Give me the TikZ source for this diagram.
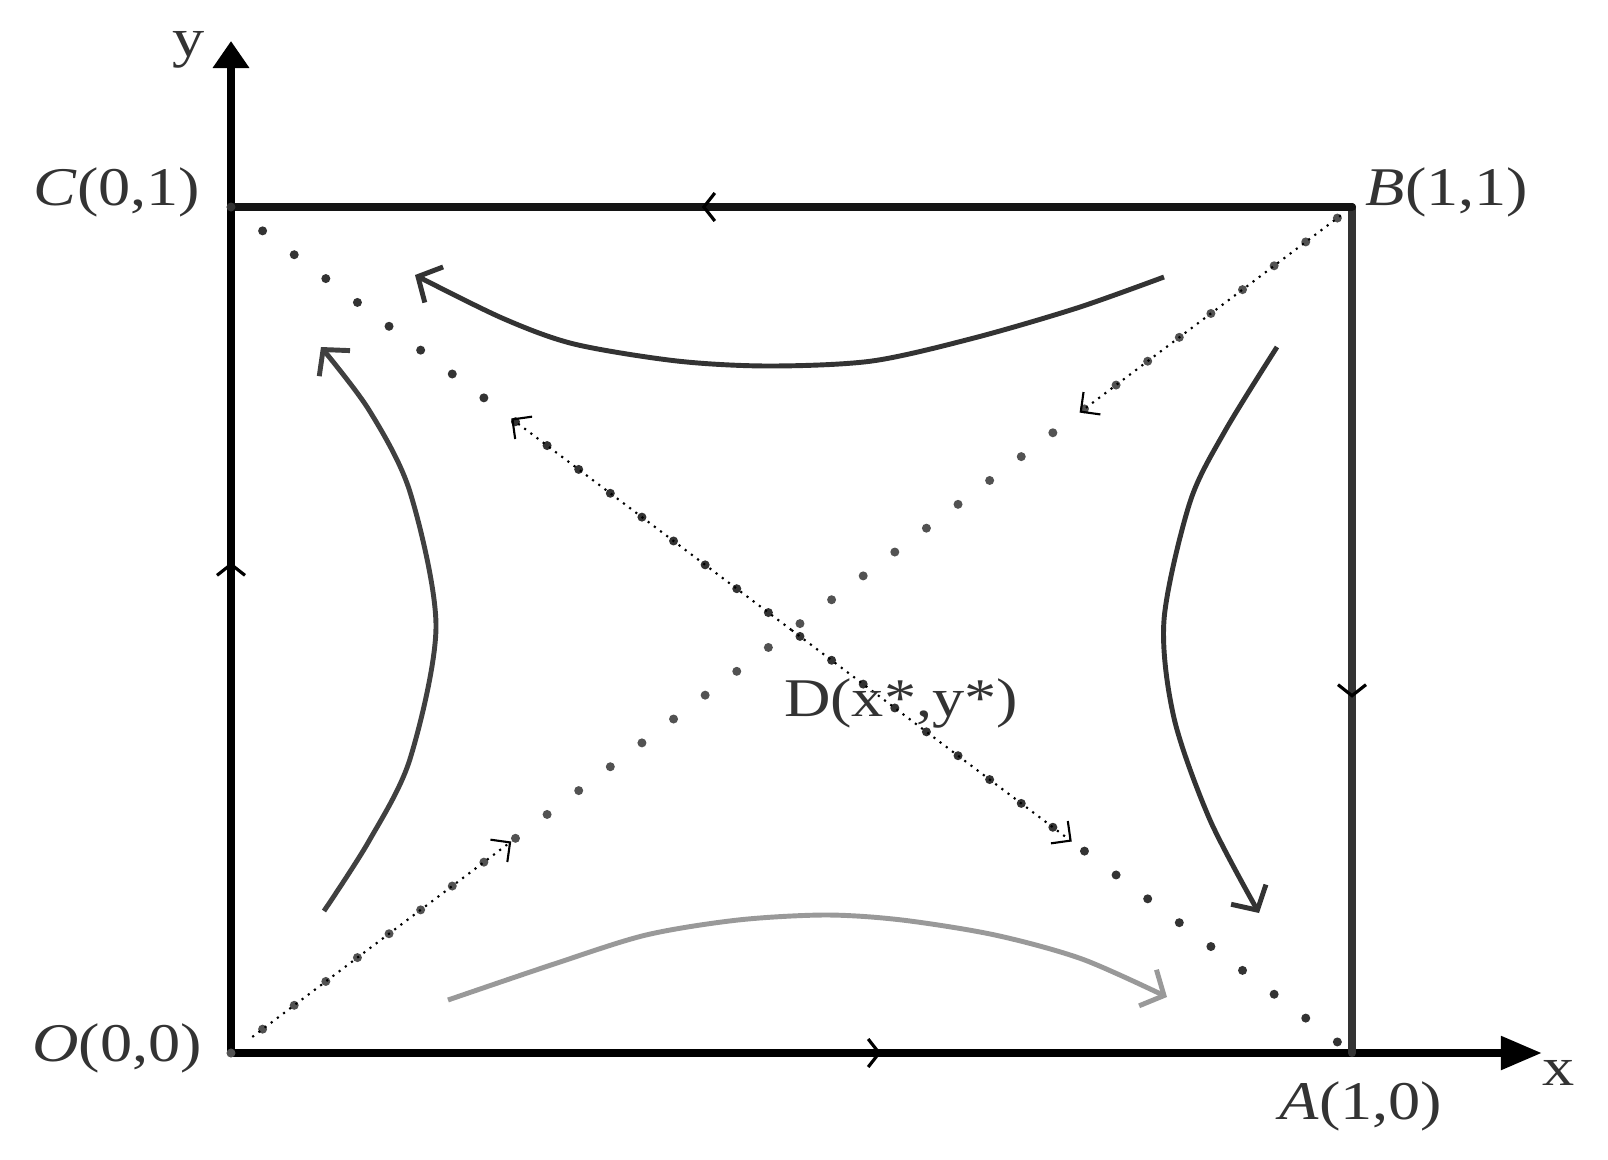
\documentclass[tikz,border=0pt]{standalone}
\usepackage{fontspec}
\setmainfont[FakeStretch=1.18]{Liberation Serif}
\usetikzlibrary{calc,arrows.meta,decorations.markings}

\tikzset{
  side/.style={line width=2.3pt,line cap=round},
  flow/.style={postaction=decorate,decoration={markings,
      mark=at position 0.58 with {\arrow[black]{Straight Barb[length=1.1mm,width=2.8mm,line width=0.9pt]}}}},
  xaxis/.style={line width=2.3pt,-{Triangle[length=4.1mm,width=3.2mm]}},
  yaxis/.style={line width=2.3pt,-{Triangle[length=2.7mm,width=3.5mm]}},
  orbit/.style={line width=1.4pt,-{Straight Barb[length=1.8mm,width=4mm,line width=1.4pt]}},
  manifold/.style={line width=0.6pt,dash pattern=on 0.6pt off 1.6pt},
  tip/.style={-{Straight Barb[length=1.4mm,width=2.8mm,line width=0.6pt]}},
  lbl/.style={font=\fontsize{15.5}{18}\selectfont,text=black!80,inner sep=0pt}
}

\begin{document}
\begin{tikzpicture}[x=0.01cm,y=-0.01cm]
\useasboundingbox (0,0) rectangle (1608,1160);

% corners of the unit square
\coordinate (O) at (231,1053);
\coordinate (A) at (1352,1053);
\coordinate (B) at (1352,207);
\coordinate (C) at (231,207);
\coordinate (D) at ($(O)!0.5!(B)$);
\coordinate (xtip) at (1542,1053);
\coordinate (ytip) at (231,41);

% axes
\draw[xaxis] (O) -- (xtip);
\draw[yaxis] (O) -- (ytip);

% boundary with directions
\draw[side,flow] (O) -- (A);
\draw[side,flow,black!80] (B) -- (A);
\draw[side,flow,black!92] (B) -- (C);
\draw[side,flow] (O) -- (C);

% trajectories
\draw[orbit,black!80] plot[smooth] coordinates {(1164,277) (1077,308) (974,338) (872,361) (769,366) (677,361) (574,344) (502,318) (415,275)};
\draw[orbit,black!75] plot[smooth] coordinates {(324,911) (369,841) (410,759) (436,626) (410,492) (369,410) (321,347)};
\draw[orbit,black!80] plot[smooth] coordinates {(1277,347) (1225,431) (1190,502) (1164,620) (1174,718) (1210,820) (1259,913)};
\draw[orbit,black!40] plot[smooth] coordinates {(448,1000) (554,964) (646,935) (738,920) (826,915) (902,920) (995,935) (1082,959) (1167,997)};

% dotted diagonals
\foreach \k in {0,...,35} {
  \pgfmathsetmacro\t{\k*0.0282}
  \fill[black!68] ($(O)!\t!(B)$) circle (0.045cm);
  \fill[black!80] ($(C)!\t!(A)$) circle (0.045cm);
}

% saddle directions
\coordinate (s1) at ($(O)!0.019!(B)$);
\coordinate (e1) at ($(O)!0.25!(B)$);
\coordinate (s2) at ($(O)!0.99!(B)$);
\coordinate (e2) at ($(O)!0.757!(B)$);
\coordinate (u1) at ($(C)!0.25!(A)$);
\coordinate (u2) at ($(C)!0.75!(A)$);
\draw[manifold,tip] (s1) -- (e1);
\draw[manifold,tip] (s2) -- (e2);
\draw[manifold,tip] (D) -- (u1);
\draw[manifold,tip] (D) -- (u2);

% labels
\node[lbl] (ylab) at (189,50) {y};
\node[lbl] (xlab) at (1559,1073) {x};
\node[lbl] (Clab) at (117,192) {\textit{C}(0,1)};
\node[lbl] (Blab) at (1447,192) {\textit{B}(1,1)};
\node[lbl] (Olab) at (117,1048) {\textit{O}(0,0)};
\node[lbl] (Alab) at (1361,1106) {\textit{A}(1,0)};
\node[lbl] (Dlab) at (901,703) {D(x*,y*)};
\end{tikzpicture}
\end{document}
